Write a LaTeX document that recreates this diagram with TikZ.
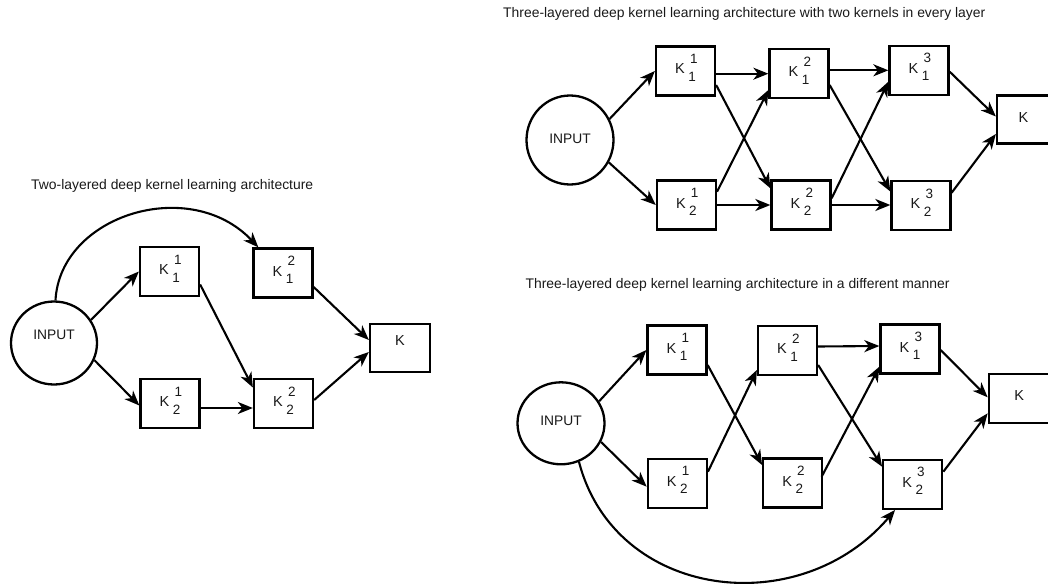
\documentclass[tikz,border=0pt]{standalone}
\usepackage{fontspec}
\setmainfont{Liberation Sans}
\usetikzlibrary{arrows.meta,calc,shapes.geometric}

% kernel label: K with a superscript (layer) and a subscript (index)
\newcommand{\kdx}[2]{K\hspace{3.5pt}\rlap{\raisebox{10.5pt}{\hspace{1.7pt}\fontsize{13.5}{12}\selectfont #1}}\raisebox{-7.5pt}{\fontsize{13.5}{12}\selectfont #2}\hspace{7pt}}

\begin{document}
\begin{tikzpicture}[x=1pt,y=-1pt,
  ttl/.style={inner sep=0pt, font=\fontsize{13.9}{16}\selectfont, text=black!90},
  kbox/.style={draw, line width=2.3pt, minimum width=59pt, minimum height=49pt, inner sep=0pt,
    font=\fontsize{14.5}{16}\selectfont, text=black!90, text height=20pt, text depth=14pt},
  fbox/.style={draw, line width=2.3pt, minimum width=59pt, minimum height=49pt, inner sep=0pt,
    font=\fontsize{14.5}{16}\selectfont, text=black!90, text height=10.4pt},
  inbox/.style={draw, ellipse, line width=2.3pt, inner sep=0pt,
    font=\fontsize{13.8}{16}\selectfont, text=black!90, text height=9.9pt},
  arr/.style={-{Stealth[length=15pt,width=12pt,inset=4.5pt]}, line width=2.1pt},
]
\useasboundingbox (0,0) rectangle (1048,583);

% ---------- two-layered architecture ----------
\node[ttl, anchor=base west] (t1) at (31,189.3) {Two-layered deep kernel learning architecture};
\node[inbox, minimum width=86pt, minimum height=83pt, text depth=17.9pt] (ain) at (54,343) {INPUT\hspace{6pt}};
\node[kbox] (a11) at (169.5,271.5) {\kdx{1}{1}};
\node[kbox] (a21) at (170,403.5) {\kdx{1}{2}};
\node[kbox] (a12) at (283,273) {\kdx{2}{1}};
\node[kbox] (a22) at (283.5,403.5) {\kdx{2}{2}};
\node[fbox, minimum width=60pt, minimum height=48pt, text depth=16.4pt] (ak) at (400,348) {K\hspace{4pt}};

\draw[arr] (ain.32) -- (a11.west);
\draw[arr] (ain.-23) -- ($(a21.west)+(0,2)$);
\draw[arr] (ain.88) .. controls (60,215) and (190,175) .. ($(a12.north west)+(6,0)$);
\draw[arr] ($(a11.east)+(0,13)$) -- ($(a22.west)+(0,-16)$);
\draw[arr] ($(a21.east)+(0,4.5)$) -- ($(a22.west)+(0,4.5)$);
\draw[arr] ($(a12.east)+(0,14)$) -- ($(ak.west)+(0,-8)$);
\draw[arr] ($(a22.east)+(0,-3.5)$) -- ($(ak.west)+(0,4)$);

% ---------- three layers, two kernels per layer ----------
\node[ttl, anchor=base west] (t2) at (503,17.5) {Three-layered deep kernel learning architecture with two kernels in every layer};
\node[inbox, minimum width=87pt, minimum height=89pt, text depth=3.2pt] (bin) at (570,140) {INPUT\hspace{6pt}};
\node[kbox] (b11) at (685.5,71) {\kdx{1}{1}};
\node[kbox] (b21) at (686.4,205) {\kdx{1}{2}};
\node[kbox] (b12) at (799,73.7) {\kdx{2}{1}};
\node[kbox] (b22) at (801,205) {\kdx{2}{2}};
\node[kbox] (b13) at (919,70.3) {\kdx{3}{1}};
\node[kbox] (b23) at (921,205.5) {\kdx{3}{2}};
\node[fbox, minimum width=53pt, minimum height=48pt, text depth=4.8pt] (bk) at (1023.5,119.5) {K\hspace{8pt}};

\draw[arr] (bin.28) -- (b11.west);
\draw[arr] (bin.-30) -- (b21.west);
\draw[arr] (b11.east |- b12.west) -- (b12.west);
\draw[arr] ($(b11.east)+(0,14)$) -- ($(b22.west)+(0,-16.7)$);
\draw[arr] ($(b21.east)+(0,-13.3)$) -- ($(b12.west)+(0,16.3)$);
\draw[arr] (b21.east) -- (b22.west);
\draw[arr] (b12.east |- b13.west) -- (b13.west);
\draw[arr] ($(b12.east)+(0,11.3)$) -- ($(b23.west)+(0,-14)$);
\draw[arr] ($(b22.east)+(0,-6.7)$) -- ($(b13.west)+(0,11.4)$);
\draw[arr] (b22.east) -- (b22.east -| b23.west);
\draw[arr] ($(b13.east)+(0,1.4)$) -- ($(bk.west)+(0,-3)$);
\draw[arr] ($(b23.east)+(0,-12.8)$) -- ($(bk.west)+(0,14.5)$);

% ---------- three layers, different manner ----------
\node[ttl, anchor=base west] (t3) at (525.4,288) {Three-layered deep kernel learning architecture in a different manner};
\node[inbox, minimum width=87pt, minimum height=82pt, text depth=5.1pt] (cin) at (561,423.3) {INPUT\hspace{6pt}};
\node[kbox] (c11) at (677,350) {\kdx{1}{1}};
\node[kbox] (c21) at (677.3,483.3) {\kdx{1}{2}};
\node[kbox] (c12) at (787.5,350.5) {\kdx{2}{1}};
\node[kbox] (c22) at (792.7,483) {\kdx{2}{2}};
\node[kbox] (c13) at (910,349) {\kdx{3}{1}};
\node[kbox] (c23) at (912.7,484.3) {\kdx{3}{2}};
\node[fbox, minimum width=61pt, minimum height=49pt, text depth=5.6pt] (ck) at (1019.3,398.3) {K\hspace{8pt}};

\draw[arr] (cin.30) -- (c11.west);
\draw[arr] (cin.-25) -- ($(c21.west)+(0,3.4)$);
\draw[arr] ($(c11.east)+(0,15)$) -- ($(c22.west)+(0,-18)$);
\draw[arr] ($(c21.east)+(0,-11.6)$) -- ($(c12.west)+(0,19.5)$);
\draw[arr] ($(c12.east)+(0,-4)$) -- ($(c13.west)+(0,-3)$);
\draw[arr] ($(c12.east)+(0,14.5)$) -- ($(c23.west)+(0,-17.6)$);
\draw[arr] ($(c22.east)+(-1.7,-6.3)$) -- ($(c13.west)+(0,17.7)$);
\draw[arr] ($(c13.east)+(0,1)$) -- ($(ck.west)+(0,-1)$);
\draw[arr] ($(c23.east)+(0,-12.6)$) -- ($(ck.west)+(0,15)$);
\draw[arr] (cin.-65) .. controls (615,600) and (800,622) .. ($(c23.south west)+(13,0)$);
\end{tikzpicture}
\end{document}
